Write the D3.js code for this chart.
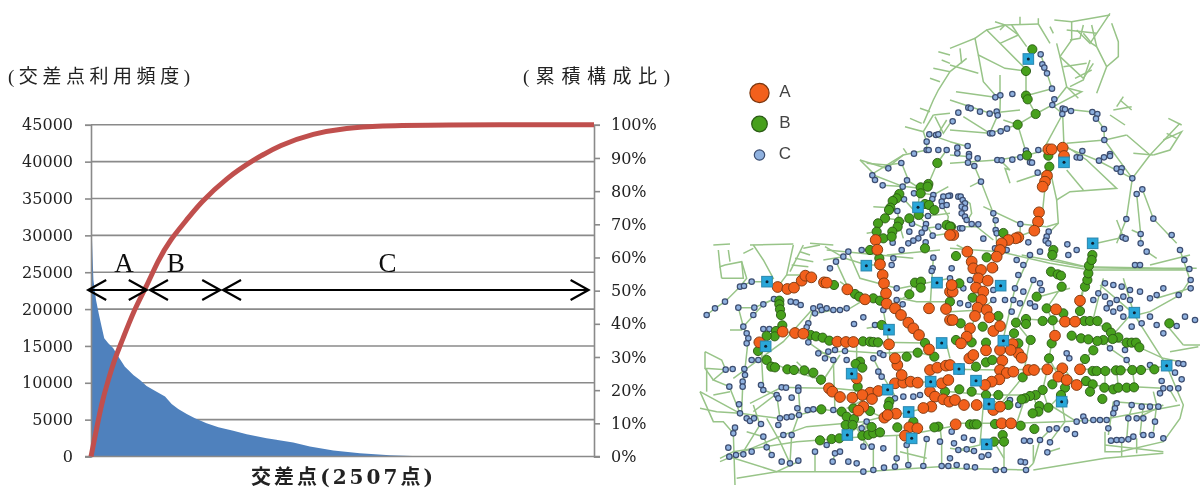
<!DOCTYPE html>
<html><head><meta charset="utf-8">
<script src="https://cdn.jsdelivr.net/npm/d3@7"></script>
<style>html,body{margin:0;background:#fff}svg{display:block}</style></head>
<body><svg id="c" width="1200" height="488"></svg>
<script>
// ---------- left chart data ----------
const freqTicks=[0,5000,10000,15000,20000,25000,30000,35000,40000,45000];
const pctTicks=[0,10,20,30,40,50,60,70,80,90,100];
const freqRank=[2,5,12,25,40,53,66,86,111,136,169,211,244,277,327,369,402,435,477,518,576,635,709,776,875,1008,1091,1208,1340,1490,1639,1706];
const freqVal=[30000,29400,23950,21220,19190,17600,16030,15350,14670,13550,12190,11060,10380,9570,8800,8130,7130,6460,5780,5190,4510,3970,3480,3020,2480,1900,1350,810,450,180,45,0];
const cumRank=[0,20,53,86,120,153,219,273,335,394,477,543,676,809,942,1108,1274,1440,1690,2507];
const cumPct=[0,6,16.1,23.1,29.7,34.6,44.8,50.8,59.2,65.3,71.3,76.4,84,89.4,93.9,97.4,99.1,99.7,100,100];
const classNames=["A","B","C"];
const classStart=[-14,294,658];
const classEnd=[278,644,2480];
const classLabelRank=[164,423,1478];
// ---------- map data: flat x,y lists in map grid units, one list per map quarter ----------
const aNE=[295,448,305,448,338,443,342,468,291,527,285,545,278,560,267,637,264,665,253,692,205,712,197,715,175,720,155,730,10,705];
const aNW=[527,720,750,705];
const aSW=[233,126,262,132,282,128,305,107,316,92,334,97,372,112,380,113,442,133,495,163,532,14,540,58,548,90,552,115,558,145,560,176,585,190,603,210,625,233,640,250,657,270,687,190,738,192,687,313,248,260,285,264,310,266,412,290,438,291,460,291,567,298,178,292,387,430,397,440,420,456,457,458,510,443,487,450,535,438,516,462,490,485,475,497,585,415,610,413,632,410,653,413,605,390,592,360,585,340,690,375,712,368,738,362,725,415,745,405,690,440,705,455,730,463,748,470,694,485,670,489,553,518,588,506,563,510,628,547,652,550,615,572,470,400,750,140,750,225];
const aSE=[52,20,65,50,70,70,93,75,85,100,127,68,113,107,150,15,140,35,78,128,100,140,95,165,83,188,110,195,118,217,75,213,60,250,50,275,33,295,130,258,150,243,188,297,150,315,205,325,215,338,182,315,108,316,157,347,150,375,170,384,190,380,148,403,125,410,105,420,235,375,252,375,292,373,337,370,325,395,350,405,380,420,390,373,315,272,318,193,345,230,375,230,390,167,58,340,70,330,28,372,8,140,5,120,8,225,0,360,15,465,42,480,80,480,130,495,150,485,17,538,155,535,183,535];
const bNE=[247,148,228,213,228,287,233,298,257,342,203,374,231,466,295,467,298,500,160,699,3,680];
const bNW=[712,489,685,552,662,562,683,560,662,580,598,582,590,595,578,603,571,623,567,630,675,612,687,615,703,630,656,645,628,655,555,655,534,670,597,665,593,680,577,695,530,695,550,715,575,710,740,675,750,680];
const bSW=[402,120,465,147,478,155,520,160,540,167,628,148,645,113,663,110,662,128,675,10,510,15,538,40,238,167,238,178,240,193,243,210,247,241,228,258,224,274,200,273,174,318,200,345,214,365,225,367,262,373,282,375,313,376,340,383,363,404,332,270,348,274,368,278,388,287,489,289,510,290,520,291,534,292,545,240,675,294,703,335,653,323,620,335,480,350,467,357,487,368,473,425,364,493,425,500,510,498,440,515,462,522,437,540,458,540,360,586,395,582,418,580,487,572,505,570,520,565,540,562,515,546,592,547,715,545,703,547,568,470,565,483,460,490,750,170,735,440,640,530];
const bSE=[18,33,110,37,310,15,307,30,303,80,323,88,333,92,335,125,260,155,290,190,340,205,390,198,278,228,308,226,228,222,228,237,198,233,192,265,242,285,205,295,305,295,365,272,393,280,415,283,403,228,420,228,442,228,470,247,483,263,505,277,488,282,460,285,442,288,530,293,545,293,558,293,568,307,430,316,405,342,297,340,108,293,65,292,108,352,127,345,78,365,218,397,278,435,307,418,345,428,333,450,408,408,428,418,420,440,463,428,490,433,505,428,530,428,552,427,457,462,428,378,440,378,466,378,498,376,512,376,547,375,573,375,613,373,257,450,240,453,225,460,215,463,268,483,295,488,265,500,248,505,175,480,145,450,108,450,65,440,28,433,60,538,72,538,80,538,135,537,212,542,253,552,158,570,162,590,132,590,658,235,405,125,412,105,415,85,417,62,427,30,425,45,145,213,32,235,98,245,18,285,68,158,28,115];
const cNE=[272,163,277,193,283,203,291,220,306,266,313,298,307,315,338,326,345,328,363,333,337,342,427,336,442,342,438,356,462,387,463,420,397,453,380,472,390,473,447,482,462,472,480,462,480,468,500,506,515,505,512,516,547,535,560,582,577,568,529,657,610,656,572,702,665,705,518,712,527,716,572,730,136,292,151,286,187,282,55,323,62,325,25,338,90,335,119,341,140,335,143,346,8,364,171,386,152,394,120,400,127,400,22,443,53,438,22,460,57,462,83,475,57,470,54,488,73,498,142,480,155,481,187,479,211,472,228,452,265,450,240,487,246,488,263,518,93,545,0,587,25,590,32,590,38,600,45,610,35,620,45,625,35,640,45,650,50,660,65,672,85,673,30,685,37,685,130,640,137,661,211,672,137,690,140,700,100,716,296,695,290,710,287,722,295,730,235,727,352,733];
const cNW=[688,403,708,405,715,403,680,425,680,450,686,450,715,450,740,450,642,461,604,489,565,505,517,526,525,540,548,556,621,541,608,560,612,598,700,585,697,597,730,590,745,588,725,605,727,618,740,615,642,580,592,633,684,648,678,672,675,685,636,671,628,695,665,698,715,680,698,707,655,715,640,722,625,730,677,727,578,728];
const cSW=[20,210,45,190,75,170,115,188,120,125,132,123,155,110,163,188,160,210,190,178,222,162,272,170,288,172,302,180,340,190,360,185,345,205,365,195,380,190,400,195,420,195,440,190,325,235,320,247,325,292,390,70,408,50,430,35,445,20,485,15,580,40,575,60,605,15,700,38,698,70,695,78,550,195,590,130,590,165,608,178,462,237,490,217,525,240,130,245,140,265,145,280,140,295,190,252,208,252,155,345,175,345,77,374,98,372,133,372,135,390,128,410,128,425,88,425,183,420,190,435,245,427,258,428,295,428,295,437,230,450,235,460,275,458,292,490,323,495,340,493,400,495,117,478,120,505,140,520,150,528,162,520,183,537,105,548,100,565,85,608,88,635,108,630,130,628,155,620,190,575,200,607,215,630,245,650,270,655,295,647,250,570,275,570,240,520,260,517,275,515,297,510,235,540,345,620,380,600,405,625,420,620,398,650,445,650,470,655,490,680,520,675,552,668,585,665,625,660,670,663,725,663,745,663,490,605,515,605,550,610,590,640,620,600,680,582,720,590,500,530,485,550,355,325,385,320,405,315,435,318,375,340,400,345,440,345,520,340,540,325,550,330,535,380,545,395,585,460,610,455,640,455,660,450];
const cSE=[590,20,690,15,703,45,718,72,722,105,722,130,686,150,640,130,620,150,600,160,570,140,555,60,570,60,465,115,490,120,515,125,540,135,445,145,430,165,465,155,480,175,500,165,520,155,540,165,470,190,490,200,510,190,520,215,545,245,575,235,600,215,620,240,640,265,680,243,705,215,735,225,685,355,700,357,675,383,695,403,635,408,640,430,660,430,685,430,630,445,500,475,495,490,490,505,545,480,575,485,600,485,625,485,535,520,560,520,580,520,615,530,400,515,405,527,430,525,450,525,470,525,475,550,483,587,500,585,515,585,535,583,550,575,580,570,605,570,640,580,380,530,375,567,350,553,320,550,298,553,300,592,292,622,270,585,240,588,222,587,205,480,180,465,240,30,200,45,170,15,135,10,5,70,40,130,60,105,130,135,195,130,220,140,250,105,270,115,275,135,190,165,210,175,240,175,255,185,30,175,55,180,130,165,165,165,185,200,350,325,358,340,345,470,480,310,525,315,530,345,600,360,20,660,50,665,75,667,137,675,162,675,228,675,225,652,212,650,95,635,115,630,72,618,50,613,25,615,12,595,42,578,68,585,5,560,0,640,270,20,355,30,380,15,135,70,205,90,220,60,0,100];
const sqNE=[235,177,342,487,428,730];
const sqNW=[654,622];
const sqSW=[201,110,499,62,711,113,567,254,197,304,725,294,455,386,692,410,563,434,626,501,442,570,635,580];
const sqSE=[152,122,160,287,27,372,78,407,117,477,110,598,335,470,553,203,650,362];
const roadsNE=[[135,65,165,75,265,72],[210,50,210,75],[265,55,265,72,300,130],[110,90,165,75],[75,115,110,90,150,130,225,205],[0,145,75,115,85,165,165,205,228,213],[85,165,100,245,140,290],[150,90,165,75,205,105,230,140],[150,130,205,105],[185,75,205,105],[0,195,85,220],[0,215,50,175],[30,145,35,190],[228,213,228,287,233,298,257,342,203,374,231,466],[150,225,150,285],[18,275,136,292],[228,287,306,266,291,220,272,163],[313,60,365,65,480,45],[480,40,450,85,420,130,380,90],[485,70,505,125,505,170,470,200,440,280],[365,65,365,120,330,170,350,260,385,295],[400,75,390,115,360,120],[425,75,440,140,470,200],[400,100,425,130,440,140],[420,180,400,240,360,260],[330,170,400,235,430,190],[355,265,395,275,310,320],[320,130,330,170],[300,80,310,100],[257,342,307,315,350,260],[307,315,338,342,342,440],[338,342,285,440],[338,326,427,336,462,387,463,420,547,535],[350,430,465,420,530,405],[530,405,600,465,690,370],[350,440,410,480,500,565,360,575,320,600,298,500],[350,510,400,570],[480,345,525,375],[500,320,520,290],[490,330,545,320],[510,300,545,330],[600,465,547,535,529,657,500,730],[577,568,610,656,680,730],[560,582,572,702,572,735],[610,465,550,460],[640,420,695,395,660,450,610,465],[655,355,695,375],[650,400,680,415],[500,660,520,712,440,730],[545,690,572,702],[0,300,120,340,210,330],[119,400,150,330,151,286],[0,390,119,400,203,374],[0,490,142,480,231,466,295,448,342,440,440,480,547,535],[0,465,60,470],[93,545,73,498,54,488],[93,545,130,640,137,690,140,730],[100,620,211,672,290,680],[150,480,180,510,165,505,180,550],[200,545,290,515,277,640,264,665,253,692,150,730],[320,600,325,670,300,695],[211,672,210,700,175,720],[290,680,325,670],[0,680,80,680,130,720],[30,590,60,610,65,640,50,665],[40,350,120,400],[0,425,55,440],[160,360,203,374],[60,560,90,545],[350,90,440,100],[340,200,410,190],[375,235,425,210]];
const roadsNW=[[715,155,750,165],[725,180,750,190],[700,205,750,215],[690,235,720,245],[750,215,715,270,700,300,670,370],[660,325,690,335],[630,355,665,370],[615,380,670,395,680,425,680,450],[700,345,750,340],[705,350,730,400,750,370],[700,345,670,395],[740,360,715,400],[688,403,750,425],[680,450,610,465,560,505,480,480],[480,480,520,520,610,465],[500,490,560,495,600,490],[605,490,625,540,610,560,598,582],[520,525,610,560],[548,556,620,560,660,565],[712,489,685,552],[620,460,610,445],[740,450,712,489],[620,540,660,565,654,622],[640,575,700,585,745,560],[520,620,571,623],[500,700,530,695,555,655,578,603],[592,633,600,680,610,715],[555,655,600,660,640,670,675,685,715,680,750,680],[330,730,400,735],[40,735,90,732],[150,735,280,732],[612,598,678,672,698,707,750,700],[654,645,684,648,750,640],[727,618,745,650,740,675]];
const roadsSW=[[55,15,60,65,75,60,125,50,140,100,120,125,75,170,45,190,20,210],[65,100,130,100,125,50],[90,50,85,15],[60,65,65,100],[130,25,160,10],[155,110,120,125],[160,0,190,45,220,100,201,110,155,110],[280,0,260,90,233,126],[310,0,270,80],[360,0,310,10],[300,20,330,30],[285,40,340,50],[275,60,325,65],[260,90,320,90],[90,255,125,255,130,245,190,178,222,162,163,188,115,188],[115,188,130,245,145,280,135,372,128,425,125,500],[15,320,65,345,77,374,15,370,15,320],[77,374,40,405,88,425,120,505,0,440],[0,440,40,530,70,530,100,565,105,720],[15,370,40,405],[40,450,90,440],[88,635,230,680,295,650],[110,700,230,680,490,680,750,663],[60,650,250,570,320,545,490,530,550,515],[60,640,100,620,290,590,490,575,620,570,750,545],[0,490,50,500,120,505,235,520,295,510,364,493,425,500],[150,475,245,427,295,428,387,430],[100,400,250,290,340,190],[155,345,200,345,262,373,363,404],[295,428,300,500,275,570,270,655],[190,252,185,345,190,435,230,450,240,520],[340,190,325,235,325,292,400,345,405,500],[350,205,400,195,450,190,495,163],[375,5,435,40,500,60,540,60],[370,45,430,35],[420,110,495,163,560,176],[408,50,445,130],[445,20,480,100,590,130],[540,60,550,195,567,298,570,345],[360,325,440,318,540,325,650,320,703,335],[248,260,332,270,412,290,545,292,675,294],[470,290,470,400,473,425,457,458],[400,430,510,440,585,415,692,410],[510,500,550,518,626,501,694,485],[500,530,440,570],[470,550,510,610],[520,340,540,380,590,460,568,470],[490,605,500,530],[345,620,345,680],[405,625,398,650],[520,610,520,675],[590,570,590,640,585,665],[620,570,625,660],[680,582,670,663],[725,590,725,663],[600,130,750,100],[600,160,650,170,750,170],[700,38,690,190],[560,30,720,15],[380,15,640,40],[500,250,560,240],[740,300,750,340],[720,545,725,590],[640,115,628,148,550,195],[200,520,240,590,270,655],[140,560,190,575,215,630],[160,480,180,540,130,620],[20,440,20,370],[225,450,160,500],[360,420,420,330],[440,490,520,450],[600,620,680,640],[290,350,340,400]];
const roadsSE=[[0,10,150,20,300,55,420,75,720,75],[215,30,400,65,640,70,740,70],[300,40,420,68,700,72],[590,20,620,40],[690,15,720,105,690,150,600,200,560,210],[335,125,290,190,308,226,315,272,305,295,297,340,292,373,278,435,295,488],[400,130,390,198,375,230,345,230,228,222],[450,120,550,205,650,362,700,480,690,520,640,590,510,620,465,620,465,560],[465,600,640,620],[515,580,515,635],[560,580,560,625],[20,0,60,20,90,100,80,190,60,270,30,300],[390,373,580,375,650,362],[0,373,150,375,340,370],[340,370,380,420,550,425,640,430],[465,430,465,378],[505,430,500,376],[555,427,547,375],[0,440,120,450,250,450],[0,535,180,535,330,530,450,525,690,480],[250,675,465,640,640,625],[0,670,230,675,250,655],[162,590,162,675],[250,600,250,655,270,585,300,555],[292,622,330,610],[300,480,380,530],[490,470,620,480],[490,470,475,570],[548,480,535,520,530,585],[580,480,570,570],[320,450,335,470,345,530,300,590],[440,288,530,293,568,307,640,340,690,350],[700,300,750,300],[660,320,745,305],[650,240,700,300],[365,272,460,285,480,310,530,345,547,375],[400,228,470,247,505,277],[520,100,550,200,480,280],[720,130,620,160],[150,375,160,280,195,130,240,30],[218,397,240,285,198,233,250,105],[218,397,150,480,108,450],[250,450,265,500,295,488,333,450],[200,535,225,460],[100,480,90,600,25,615],[0,610,70,620],[162,640,132,590],[430,316,405,342,388,373],[345,428,297,340],[600,60,720,30],[250,160,360,130],[420,60,390,165],[460,100,430,220],[610,440,620,480,610,560],[660,435,680,470],[0,200,90,195,130,165],[560,520,640,480]];
const legendRows=["A","B","C"];

// ---------- drawing ----------
const svg=d3.select("#c");
const serif="'DejaVu Serif','Liberation Serif',serif", cjk="'Liberation Serif','Noto Sans CJK JP',serif", cjkBold="'DejaVu Serif','Noto Sans CJK JP',serif";
svg.append("defs").append("filter").attr("id","soft").append("feGaussianBlur").attr("stdDeviation",0.45);
const x=d3.scaleLinear([0,2507],[91,594]);
const yF=d3.scaleLinear([0,45000],[456.5,124.8]);
const yP=d3.scaleLinear([0,100],[456.5,124.8]);
const gray="#8a8a8a";
const chart=svg.append("g").attr("filter","url(#soft)");
chart.selectAll(".grid").data(freqTicks.slice(1)).join("line").attr("x1",x(0)).attr("x2",x(2507))
 .attr("y1",d=>yF(d)).attr("y2",d=>yF(d)).attr("stroke",gray).attr("stroke-width",1.6);
const freqArea=d3.zip(freqRank,freqVal);
chart.append("path").datum(freqArea).attr("fill","#4f81bd")
 .attr("d",d3.area().x(d=>x(d[0])).y0(yF(0)).y1(d=>yF(d[1])));
function styleAxis(g){g.selectAll("path,line").attr("stroke",gray).attr("stroke-width",1.6);
 g.selectAll("text").attr("font-family",serif).attr("font-size",16).attr("fill","#222");}
chart.append("g").attr("transform",`translate(${x(0)},0)`).call(d3.axisLeft(yF).tickValues(freqTicks).tickFormat(d3.format("d")).tickSizeOuter(0).tickSize(6).tickPadding(12)).call(styleAxis);
chart.append("g").attr("transform",`translate(${x(2507)},0)`).call(d3.axisRight(yP).tickValues(pctTicks).tickFormat(d=>d+"%").tickSizeOuter(0).tickSize(6).tickPadding(11)).call(styleAxis);
chart.append("line").attr("x1",85).attr("x2",600).attr("y1",yF(0)).attr("y2",yF(0)).attr("stroke",gray).attr("stroke-width",1.6);
chart.append("path").datum(d3.zip(cumRank,cumPct)).attr("fill","none").attr("stroke","#c0504d").attr("stroke-width",5)
 .attr("d",d3.line().x(d=>x(d[0])).y(d=>yP(d[1])).curve(d3.curveBasis));
// class ranges
const arrowY=290;
classNames.forEach((n,i)=>{
 const a=x(classStart[i]),b=x(classEnd[i]);
 const g=chart.append("g").attr("fill","none").attr("stroke","#000").attr("stroke-width",2.2);
 g.append("line").attr("x1",a).attr("x2",b).attr("y1",arrowY).attr("y2",arrowY);
 g.append("path").attr("d",d3.line()([[a+18,arrowY-10],[a,arrowY],[a+18,arrowY+10]]));
 g.append("path").attr("d",d3.line()([[b-18,arrowY-10],[b,arrowY],[b-18,arrowY+10]]));
 chart.append("text").attr("x",x(classLabelRank[i])).attr("y",271.5).attr("text-anchor","middle")
  .attr("font-family","'Liberation Serif',serif").attr("font-size",27).attr("fill","#111").text(n);
});
function label(t,x0,w,yy,size,weight,fam){chart.append("text").attr("x",x0).attr("y",yy).attr("font-family",fam||cjk)
 .attr("font-size",size).attr("font-weight",weight||400).attr("fill","#222").attr("textLength",w).attr("lengthAdjust","spacing").text(t);}
label("(交差点利用頻度)",8,182,83,19);
label("(累積構成比)",523,147,83,19);
label("交差点(2507点)",251,182,484,20,700,cjkBold);

// map
const mx=d3.scaleLinear([0,1500],[700,1200]), my=d3.scaleLinear([0,1464],[0,488]);
const E=750,S=735;
const quad=(ne,nw,sw,se)=>[[ne,E,0],[nw,0,0],[sw,0,S],[se,E,S]].flatMap(([l,dx,dy])=>d3.range(0,l.length,2).map(i=>[l[i]+dx,l[i+1]+dy]));
const roadLine=d3.line().x(d=>mx(d[0])).y(d=>my(d[1]));
const map=svg.append("g").attr("filter","url(#soft)");
const roads=[[roadsNE,E,0],[roadsNW,0,0],[roadsSW,0,S],[roadsSE,E,S]].flatMap(([l,dx,dy])=>l.map(r=>d3.range(0,r.length,2).map(i=>[r[i]+dx,r[i+1]+dy])));
map.append("g").selectAll("path").data(roads).join("path").attr("d",roadLine).attr("fill","none").attr("stroke","#98c488").attr("stroke-width",1.5);
const styleC={r:2.7,f:"#8fb1df",s:"#3c4d70",w:1.2},styleB={r:4.6,f:"#46a01c",s:"#2a5a14",w:.9},styleA={r:5.4,f:"#f2611a",s:"#7a3610",w:.9};
function dots(pts,st){map.append("g").selectAll("circle").data(pts).join("circle").attr("cx",d=>mx(d[0])).attr("cy",d=>my(d[1])).attr("r",st.r).attr("fill",st.f).attr("stroke",st.s).attr("stroke-width",st.w);}
dots(quad(cNE,cNW,cSW,cSE),styleC);
dots(quad(bNE,bNW,bSW,bSE),styleB);
dots(quad(aNE,aNW,aSW,aSE),styleA);
const sq=quad(sqNE,sqNW,sqSW,sqSE);
map.append("g").selectAll("rect").data(sq).join("rect").attr("x",d=>mx(d[0])-5.3).attr("y",d=>my(d[1])-5.3).attr("width",10.6).attr("height",10.6).attr("fill","#2aa7d9").attr("stroke","#2a86ad").attr("stroke-width",1);
map.append("g").selectAll("circle").data(sq).join("circle").attr("cx",d=>mx(d[0])).attr("cy",d=>my(d[1])).attr("r",1.5).attr("fill","#123");
// legend
const legendY=d3.scalePoint(legendRows,[93,155]);
const legStyle={A:{...styleA,r:9.6},B:{...styleB,r:7.8},C:{...styleC,r:5.2}};
legendRows.forEach(k=>{const s=legStyle[k];
 map.append("circle").attr("cx",759.5).attr("cy",legendY(k)).attr("r",s.r).attr("fill",s.f).attr("stroke",s.s).attr("stroke-width",1.2);
 map.append("text").attr("x",785).attr("y",legendY(k)+3.5).attr("text-anchor","middle").attr("font-family","'Liberation Sans',sans-serif").attr("font-size",17).attr("fill","#444").text(k);
});
</script></body></html>
